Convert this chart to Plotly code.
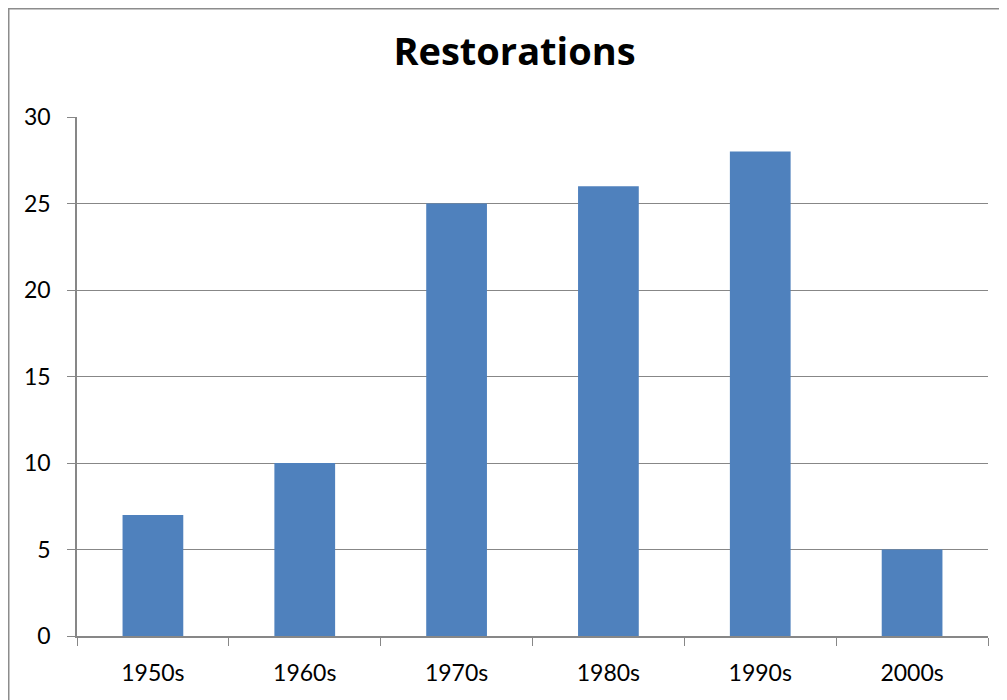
import plotly.graph_objects as go

categories = ["1950s", "1960s", "1970s", "1980s", "1990s", "2000s"]
restorations = [7, 10, 25, 26, 28, 5]
y_ticks = [0, 5, 10, 15, 20, 25, 30]
title_text = "Restorations"

W, H = 1007, 700
L, T = 69, 109
PR, PB = 980, 628  # plot right / bottom in figure px
R, B = W - PR, H - PB
pw, ph = PR - L, PB - T

fig = go.Figure(go.Bar(
    x=categories, y=restorations,
    marker=dict(color="#4F81BD", line=dict(width=0)),
    width=0.4,
))

grid = "#878787"
fig.update_layout(
    width=W, height=H,
    margin=dict(l=L, r=R, t=T, b=B),
    paper_bgcolor="white", plot_bgcolor="white",
    font=dict(family="Lato, Calibri, sans-serif", color="black", size=23),
    title=dict(text="<b>" + title_text + "</b>", x=(506.5 - L) / pw, xref="paper", xanchor="center",
               y=1 - 44 / H, yanchor="middle", font=dict(size=38, family="Open Sans, sans-serif")),
    showlegend=False,
    bargap=0.6,
)
fig.update_yaxes(
    range=[0, 30], tickvals=y_ticks, showgrid=True, gridcolor=grid, gridwidth=1,
    showline=True, linecolor=grid, linewidth=1.5, ticks="outside", ticklen=8, tickcolor=grid,
    ticklabelstandoff=12, zeroline=False, fixedrange=True,
)
fig.update_xaxes(
    showline=True, linecolor=grid, linewidth=1.5, ticks="outside", ticklen=8, tickcolor=grid,
    tickson="boundaries", ticklabelstandoff=16, showgrid=False,
)
fig.add_shape(type="rect", xref="paper", yref="paper",
              x0=(0.75 - L) / pw, x1=(1012 - L) / pw,
              y0=(PB - 710) / ph, y1=(PB - 0.75) / ph,
              line=dict(color="#8c8c8c", width=1.5), fillcolor="rgba(0,0,0,0)", layer="below")

fig.write_html("out.html")
